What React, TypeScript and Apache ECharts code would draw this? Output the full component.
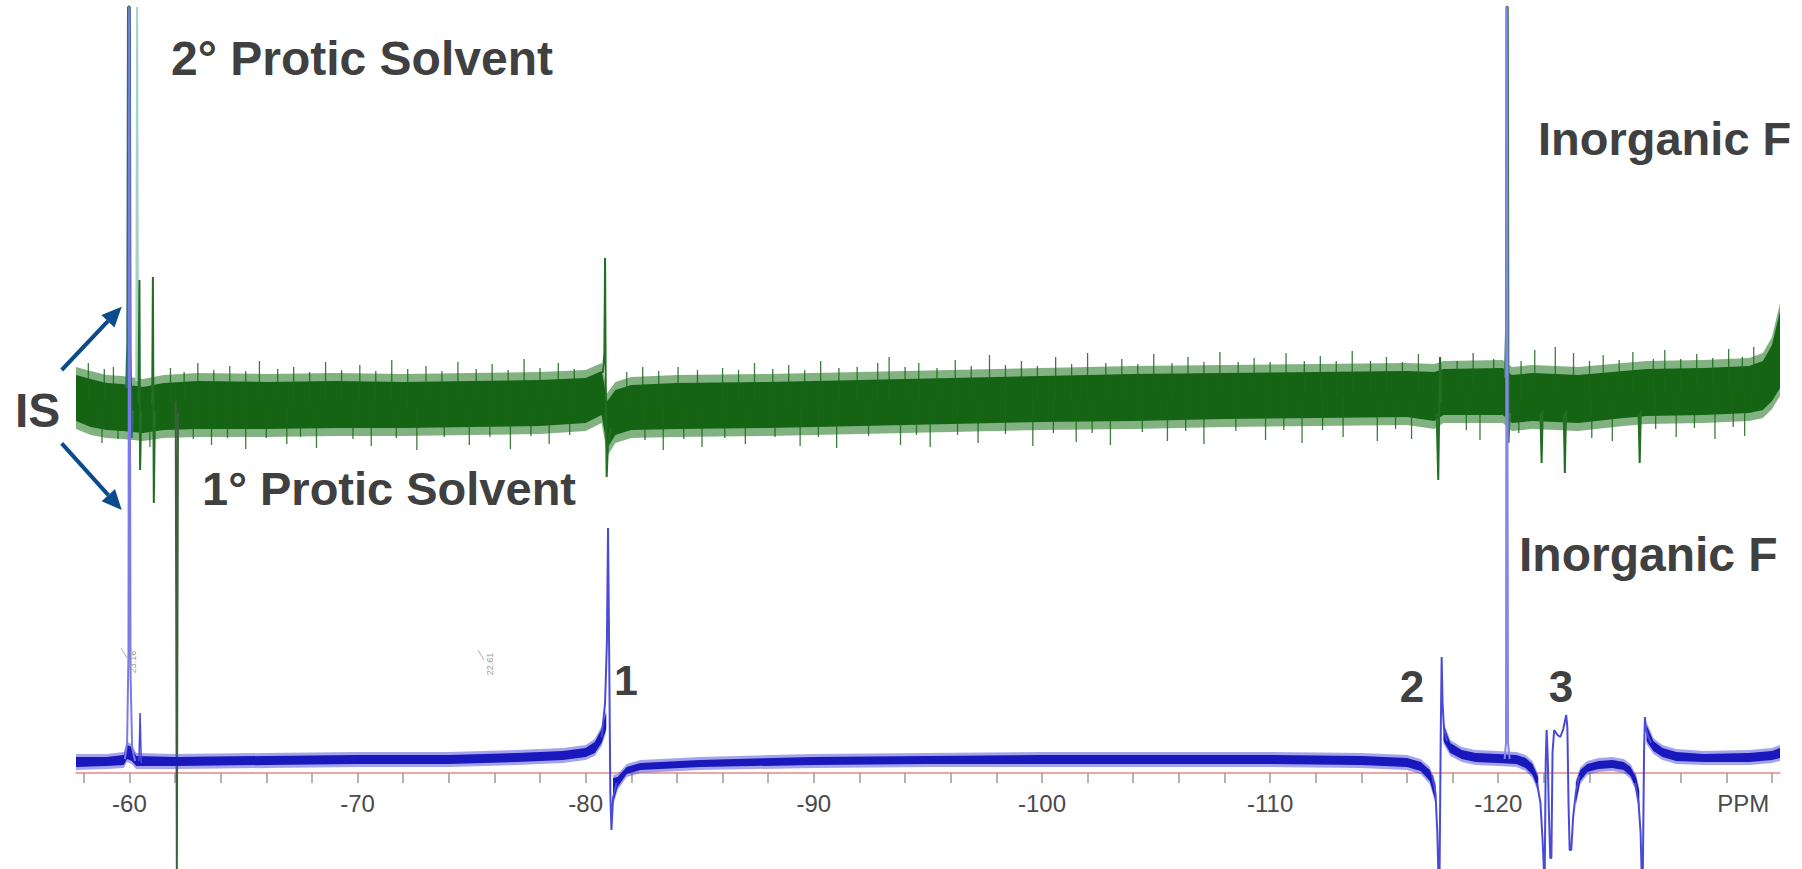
import React, { useEffect, useRef } from "react";
import * as echarts from "echarts";

// ---------- axes ----------
const X_MIN = -132.35;
const X_MAX = -57.66;
const Y_MIN = 0;
const Y_MAX = 766;
const tickLabels = [-60, -70, -80, -90, -100, -110, -120];
const ppmLabelPos = -130.74;
const tickStart = -58;
const tickEnd = -132;

// ---------- green spectrum (2° protic solvent) ----------
// [ppm, core upper, core lower]
const greenEnvelope = [
  [-57.66, 398, 352], [-58.3, 394, 346], [-59.0, 390, 343], [-59.7, 389, 342],
  [-60.6, 386, 340], [-61.5, 390, 343], [-63, 392, 344], [-66, 391, 344],
  [-69, 392, 345], [-72, 391, 345], [-75, 392, 346], [-78, 393, 347],
  [-80.0, 395, 350], [-80.7, 402, 358], [-80.95, 372, 325], [-81.3, 383, 338],
  [-82.0, 388, 343], [-84, 390, 344], [-88, 391, 345], [-92, 393, 347],
  [-96, 395, 349], [-100, 397, 351], [-104, 399, 352], [-108, 400, 354],
  [-112, 401, 355], [-116, 402, 356], [-117.2, 401, 352], [-117.6, 404, 358],
  [-120.2, 405, 358], [-120.6, 398, 350], [-121.5, 400, 352], [-123.5, 398, 350],
  [-125.5, 402, 355], [-126.5, 404, 357], [-129, 405, 358], [-131.0, 407, 360],
  [-131.6, 412, 363], [-132.0, 428, 372], [-132.35, 462, 385],
];
const greenUpSpikes = [
  [-58.2, 410], [-58.9, 404], [-59.3, 406], [-61.8, 405], [-62.4, 401], [-63.0, 410], [-63.7, 403],
  [-64.4, 407], [-65.1, 402], [-65.7, 412], [-66.5, 404], [-67.2, 406], [-67.9, 401], [-68.6, 411],
  [-69.3, 403], [-70.1, 408], [-70.8, 402], [-71.5, 413], [-72.2, 404], [-73.0, 407], [-73.7, 402],
  [-74.4, 411], [-75.2, 404], [-75.9, 409], [-76.6, 403], [-77.3, 414], [-78.0, 405], [-78.8, 410],
  [-79.5, 404], [-81.8, 401], [-82.5, 406], [-83.2, 402], [-84.05, 406], [-84.9, 403], [-86.0, 405],
  [-86.7, 403], [-87.4, 410], [-88.2, 404], [-88.9, 408], [-89.6, 403], [-90.3, 412], [-91.1, 405],
  [-91.9, 406], [-92.8, 410], [-93.3, 416], [-94.0, 406], [-94.6, 410], [-95.4, 405], [-96.2, 413],
  [-96.9, 407], [-97.7, 418], [-98.4, 408], [-99.1, 412], [-99.8, 407], [-100.6, 416], [-101.3, 409],
  [-102.0, 420], [-102.8, 410], [-103.5, 414], [-104.2, 409], [-104.9, 419], [-105.7, 410],
  [-106.4, 416], [-107.1, 411], [-107.8, 421], [-108.6, 411], [-109.3, 415], [-110.0, 411],
  [-110.7, 420], [-111.5, 412], [-112.2, 417], [-112.9, 412], [-113.6, 422], [-114.4, 412],
  [-115.1, 416], [-115.8, 411], [-116.5, 419], [-117.45, 416], [-118.2, 412], [-118.9, 420],
  [-119.8, 414], [-121.0, 412], [-121.6, 423], [-122.5, 426], [-123.3, 420], [-124.0, 412],
  [-124.6, 418], [-125.3, 413], [-125.9, 421], [-126.8, 414], [-127.3, 423], [-128.0, 414],
  [-128.7, 419], [-129.4, 415], [-130.1, 424], [-130.7, 416], [-131.2, 426],
];
const greenDownSpikes = [
  [-58.8, 330], [-59.5, 334], [-60.9, 326], [-62.8, 334], [-63.6, 328], [-64.3, 335], [-65.1, 324],
  [-66.0, 335], [-66.9, 329], [-67.5, 336], [-68.2, 325], [-69.8, 334], [-70.6, 327], [-71.7, 335],
  [-72.6, 323], [-73.8, 336], [-74.9, 328], [-75.8, 336], [-76.7, 324], [-77.6, 337], [-78.4, 329],
  [-79.3, 338], [-82.6, 333], [-83.4, 323], [-84.3, 334], [-85.1, 326], [-86.1, 335], [-87.0, 329],
  [-88.3, 336], [-89.4, 327], [-90.2, 336], [-91.0, 325], [-92.4, 337], [-93.8, 328], [-94.5, 338],
  [-95.1, 326], [-96.3, 338], [-97.2, 330], [-98.4, 339], [-99.6, 327], [-100.5, 340], [-101.5, 331],
  [-102.2, 340], [-103.0, 328], [-104.4, 341], [-105.5, 332], [-106.3, 342], [-107.1, 329],
  [-108.5, 342], [-109.8, 333], [-110.6, 343], [-111.4, 330], [-112.3, 343], [-113.2, 336],
  [-114.7, 332], [-115.5, 344], [-116.2, 334], [-118.6, 343], [-119.2, 333], [-120.9, 340],
  [-124.1, 335], [-125.0, 332], [-126.9, 344], [-127.8, 336], [-128.6, 345], [-129.5, 334],
  [-130.3, 346], [-130.8, 337],
];
const greenPeakIS = [[-59.88, 385], [-59.93, 430], [-59.96, 766], [-60.0, 766], [-60.03, 420], [-60.08, 335], [-60.14, 362]];
const greenPeakISb = [[-60.3, 392], [-60.34, 766], [-60.38, 392]];
const greenPeak604 = [[-60.4, 370], [-60.44, 493], [-60.47, 303], [-60.52, 362]];
const greenPeak610 = [[-61.0, 368], [-61.03, 496], [-61.07, 270], [-61.12, 362]];
const greenPeak621 = [[-62.03, 372], [-62.08, -96], [-62.13, 360]];
const greenPeak809 = [[-80.75, 400], [-80.82, 420], [-80.85, 515], [-80.88, 380], [-80.92, 296], [-80.98, 330], [-81.1, 345]];
const greenPeak1174 = [[-117.3, 360], [-117.37, 293], [-117.41, 360], [-117.45, 416], [-117.5, 370]];
const greenPeakF = [[-120.3, 395], [-120.35, 440], [-120.37, 766], [-120.41, 766], [-120.44, 330], [-120.5, 360]];
const greenPeak1219 = [[-121.85, 360], [-121.9, 310], [-121.95, 362]];
const greenPeak1229 = [[-122.87, 360], [-122.92, 300], [-122.97, 362]];
const greenPeak1262 = [[-126.15, 360], [-126.2, 310], [-126.25, 362]];

// ---------- blue spectrum (1° protic solvent) ----------
const blueSegA = [
  [-57.66, 16, 6], [-59.0, 16, 7], [-59.75, 18, 8], [-59.9, 28, 14], [-60.1, 26, 12],
  [-60.3, 17, 7], [-62, 16, 7], [-66, 17, 8], [-70, 18, 9], [-74, 18, 9], [-77, 20, 11],
  [-79, 22, 13], [-80.0, 25, 16], [-80.4, 31, 20], [-80.7, 44, 30], [-80.9, 60, 44],
];
const blueSegB = [
  [-81.2, -5, -30], [-81.4, -4, -14], [-81.8, 6, -1], [-82.4, 10, 3], [-85, 13, 6],
  [-90, 16, 8], [-95, 17, 9], [-100, 18, 9], [-105, 18, 9], [-110, 18, 9], [-114, 17, 8],
  [-116.0, 15, 6], [-116.6, 11, 2], [-117.0, 3, -8], [-117.25, -12, -28],
];
const blueSegC = [
  [-117.6, 48, 32], [-117.9, 30, 20], [-118.4, 23, 14], [-119.0, 20, 11], [-120.0, 19, 10],
  [-120.8, 18, 9], [-121.2, 15, 5], [-121.5, 9, -2], [-121.75, -4, -16],
];
const blueSegD = [
  [-123.4, -10, -30], [-123.6, 3, -8], [-123.9, 9, 1], [-124.4, 12, 4], [-125.0, 13, 5],
  [-125.5, 11, 3], [-125.8, 6, -3], [-126.05, -5, -16], [-126.18, -18, -35],
];
const blueSegE = [
  [-126.5, 48, 32], [-126.8, 32, 22], [-127.2, 25, 16], [-127.8, 21, 12], [-129, 19, 11],
  [-131, 20, 11], [-132.0, 22, 13], [-132.35, 25, 15],
];
const bluePeakIS = [[-59.8, 14], [-59.9, 30], [-59.96, 120], [-59.99, 766], [-60.02, 766], [-60.05, 100], [-60.12, 25], [-60.25, 12]];
const bluePeakSmall = [[-60.42, 12], [-60.47, 60], [-60.52, 10]];
const bluePeak1 = [[-80.7, 36], [-80.85, 70], [-80.93, 130], [-80.98, 245], [-81.03, 120], [-81.08, -20], [-81.13, -57], [-81.2, -25], [-81.35, -10]];
const bluePeak2 = [[-117.1, -2], [-117.25, -20], [-117.33, -60], [-117.37, -96], [-117.43, -96], [-117.48, 40], [-117.52, 116], [-117.56, 70], [-117.62, 45], [-117.75, 32]];
const bluePeakF = [[-120.28, 14], [-120.34, 30], [-120.37, 766], [-120.4, 766], [-120.43, 30], [-120.5, 14]];
const bluePeak3 = [
  [-121.7, -10], [-121.85, -30], [-121.95, -70], [-122.0, -96], [-122.04, -96], [-122.08, 10],
  [-122.12, 43], [-122.17, 15], [-122.22, -40], [-122.28, -85], [-122.33, -85], [-122.38, 20],
  [-122.45, 43], [-122.6, 38], [-122.72, 36], [-122.85, 44], [-122.98, 58], [-123.03, 45],
  [-123.08, -30], [-123.13, -77], [-123.2, -77], [-123.28, -45], [-123.4, -20], [-123.55, -3],
];
const bluePeak1264 = [[-126.0, -10], [-126.15, -30], [-126.24, -60], [-126.28, -96], [-126.34, -96], [-126.39, 20], [-126.43, 56], [-126.47, 45], [-126.55, 38], [-126.7, 30]];

const integrals = [
  { label: "23.16", x: 133, y: 662 },
  { label: "22.61", x: 490, y: 664 },
];

function centerAt(env: number[][], ppm: number) {
  for (let i = 0; i < env.length - 1; i++) {
    const a = env[i], b = env[i + 1];
    if (ppm <= a[0] && ppm >= b[0]) {
      const t = (a[0] - ppm) / (a[0] - b[0]);
      const ca = (a[1] + a[2]) / 2, cb = (b[1] + b[2]) / 2;
      return ca + (cb - ca) * t;
    }
  }
  return (env[0][1] + env[0][2]) / 2;
}

function bandSeries(segments: number[][][], core: string, fringe: string, pad: number, fringeOpacity: number, z: number, spikes?: { up: number[][]; down: number[][]; env: number[][]; color: string }) {
  return {
    type: "custom",
    coordinateSystem: "cartesian2d",
    silent: true,
    clip: false,
    z,
    data: [[X_MAX, 0]],
    renderItem: (_params: any, api: any) => {
      const children: any[] = [];
      segments.forEach((seg) => {
        const fu = seg.map((p) => api.coord([p[0], p[1] + pad]));
        const fl = seg.map((p) => api.coord([p[0], p[2] - pad])).reverse();
        children.push({ type: "polygon", shape: { points: fu.concat(fl) }, style: { fill: fringe, opacity: fringeOpacity } });
        const cu = seg.map((p) => api.coord([p[0], p[1]]));
        const cl = seg.map((p) => api.coord([p[0], p[2]])).reverse();
        children.push({ type: "polygon", shape: { points: cu.concat(cl) }, style: { fill: core } });
      });
      if (spikes) {
        spikes.up.concat(spikes.down).forEach((s) => {
          const c = centerAt(spikes.env, s[0]);
          const p1 = api.coord([s[0], c]);
          const p2 = api.coord([s[0], s[1]]);
          children.push({ type: "line", shape: { x1: p1[0], y1: p1[1], x2: p2[0], y2: p2[1] }, style: { stroke: spikes.color, lineWidth: 1.3, opacity: 0.85 } });
        });
      }
      return { type: "group", children };
    },
  };
}

function peakSeries(data: number[][], color: string, width: number, z: number) {
  return {
    type: "line",
    data,
    symbol: "none",
    showSymbol: false,
    silent: true,
    clip: false,
    z,
    lineStyle: { color, width },
  };
}

function arrow(x1: number, y1: number, x2: number, y2: number, color: string) {
  const dx = x2 - x1, dy = y2 - y1;
  const len = Math.sqrt(dx * dx + dy * dy);
  const ux = dx / len, uy = dy / len;
  const hl = 20, hw = 9;
  const bx = x2 - ux * hl, by = y2 - uy * hl;
  const px = -uy, py = ux;
  return [
    { type: "line", z: 20, shape: { x1, y1, x2: bx, y2: by }, style: { stroke: color, lineWidth: 4 } },
    { type: "polygon", z: 20, shape: { points: [[x2, y2], [bx + px * hw, by + py * hw], [bx - px * hw, by - py * hw]] }, style: { fill: color } },
  ];
}

const FONT = '"Liberation Sans", Arial, Helvetica, sans-serif';
const TEXT_COLOR = "#404040";

export default function App() {
  const ref = useRef<HTMLDivElement>(null);
  useEffect(() => {
    if (!ref.current) return;
    const chart = echarts.init(ref.current, null, { renderer: "svg" });
    const tickValues: number[] = [];
    for (let v = tickStart; v >= tickEnd; v -= 2) tickValues.push(v);

    const GREEN = "#1a661a";
    const GREEN_LINE = "#246e24";
    const BLUE = "#1818bc";
    const BLUE_LINE = "#4a4ad8";

    const series: any[] = [
      bandSeries([greenEnvelope], "#146414", "#2f7f2f", 8, 0.6, 1, { up: greenUpSpikes, down: greenDownSpikes, env: greenEnvelope, color: GREEN }),
      peakSeries(greenPeakIS, "#2e6e62", 3, 2),
      peakSeries(greenPeakISb, "#a6d2cc", 2, 2),
      peakSeries(greenPeak604, GREEN_LINE, 2, 2),
      peakSeries(greenPeak610, GREEN_LINE, 2, 2),
      peakSeries(greenPeak621, "#3c5f3c", 2, 2),
      peakSeries(greenPeak809, GREEN_LINE, 2, 2),
      peakSeries(greenPeak1174, GREEN_LINE, 2, 2),
      peakSeries(greenPeakF, "#3f7a5a", 2.5, 2),
      peakSeries(greenPeak1219, GREEN_LINE, 2, 2),
      peakSeries(greenPeak1229, GREEN_LINE, 2, 2),
      peakSeries(greenPeak1262, GREEN_LINE, 2, 2),
      bandSeries([blueSegA, blueSegB, blueSegC, blueSegD, blueSegE], BLUE, "#4a4ad8", 3, 0.5, 3),
      peakSeries(bluePeakIS, "#7b7be8", 2, 4),
      peakSeries(bluePeakSmall, BLUE_LINE, 1.5, 4),
      peakSeries(bluePeak1, BLUE_LINE, 2, 4),
      peakSeries(bluePeak2, BLUE_LINE, 2, 4),
      peakSeries(bluePeakF, "#8585ea", 2, 4),
      peakSeries(bluePeak3, BLUE_LINE, 2, 4),
      peakSeries(bluePeak1264, BLUE_LINE, 2, 4),
    ];

    const text = (t: string, x: number, y: number, size: number, align = "left") => ({
      type: "text",
      z: 20,
      x,
      y,
      style: { text: t, fill: TEXT_COLOR, font: `bold ${size}px ${FONT}`, align, verticalAlign: "middle" },
    });

    const graphic: any[] = [
      text("2° Protic Solvent", 171, 58, 48),
      text("1° Protic Solvent", 202, 488, 47),
      text("Inorganic F", 1538, 138, 47),
      text("Inorganic F", 1519, 554, 48),
      text("IS", 15, 410, 48),
      text("1", 626, 680, 43, "center"),
      text("2", 1412, 686, 44, "center"),
      text("3", 1561, 686, 44, "center"),
      ...arrow(61.7, 370, 121.7, 306.7, "#0b4a8c"),
      ...arrow(61.7, 443.3, 121.7, 510, "#0b4a8c"),
      ...integrals.map((g) => ({
        type: "text",
        z: 20,
        x: g.x,
        y: g.y,
        rotation: Math.PI / 2,
        style: { text: g.label, fill: "#9a9a9a", font: `9px ${FONT}`, align: "center", verticalAlign: "middle" },
      })),
      ...integrals.map((g) => ({
        type: "line",
        z: 20,
        shape: { x1: g.x - 12, y1: g.y - 14, x2: g.x - 6, y2: g.y - 4 },
        style: { stroke: "#b0b0b0", lineWidth: 1 },
      })),
    ];

    chart.setOption({
      animation: false,
      backgroundColor: "#ffffff",
      grid: { left: 76, right: 22, top: 7, bottom: 96, containLabel: false, outerBoundsMode: "none" },
      xAxis: {
        type: "value",
        min: X_MIN,
        max: X_MAX,
        inverse: true,
        position: "bottom",
        axisLine: { show: true, onZero: false, lineStyle: { color: "#e58888", width: 1.5 } },
        axisTick: { show: true, customValues: tickValues, length: 10, lineStyle: { color: "#9a9a9a", width: 1.5 } },
        axisLabel: {
          customValues: [...tickLabels, ppmLabelPos],
          formatter: (v: number) => (v < -125 ? "PPM" : String(Math.round(v))),
          fontSize: 24,
          fontFamily: FONT,
          color: "#4a4a4a",
          margin: 18,
        },
        splitLine: { show: false },
      },
      yAxis: { type: "value", min: Y_MIN, max: Y_MAX, show: false, splitLine: { show: false } },
      series,
      graphic,
    });
    return () => chart.dispose();
  }, []);
  return <div ref={ref} style={{ position: "fixed", left: 0, top: 0, width: 1802, height: 869, background: "#fff" }} />;
}
